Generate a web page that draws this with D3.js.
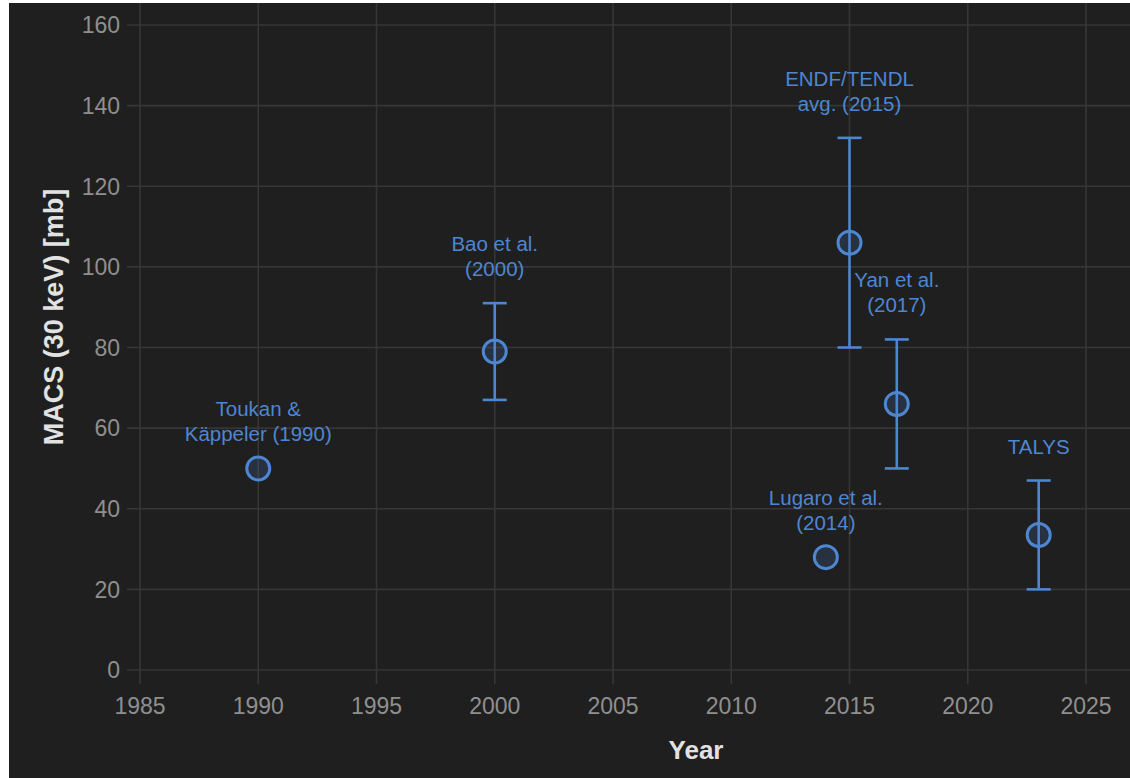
<!DOCTYPE html>
<html>
<head>
<meta charset="utf-8">
<script src="https://cdn.jsdelivr.net/npm/d3@7"></script>
<style>
  html, body { margin: 0; padding: 0; background: #ffffff; }
  svg { display: block; }
  text { font-family: "Liberation Sans", Arial, Helvetica, sans-serif; }
</style>
</head>
<body>
<svg id="chart" width="1130" height="778"></svg>
<script>
// Measurements of the 30 keV Maxwellian-averaged cross section
const sources = ["Toukan & Käppeler (1990)", "Bao et al. (2000)", "Lugaro et al. (2014)",
                 "ENDF/TENDL avg. (2015)", "Yan et al. (2017)", "TALYS"];
const labelLines = [["Toukan &", "Käppeler (1990)"], ["Bao et al.", "(2000)"],
                    ["Lugaro et al.", "(2014)"], ["ENDF/TENDL", "avg. (2015)"],
                    ["Yan et al.", "(2017)"], ["TALYS"]];
const years = [1990, 2000, 2014, 2015, 2017, 2023];
const macs = [50, 79, 28, 106, 66, 33.5];
const errLow = [null, 67, null, 80, 50, 20];
const errHigh = [null, 91, null, 132, 82, 47];

const xTicks = [1985, 1990, 1995, 2000, 2005, 2010, 2015, 2020, 2025];
const yTicks = [0, 20, 40, 60, 80, 100, 120, 140, 160];

const W = 1130, H = 778;
const panel = { left: 9, top: 3, right: W, bottom: H };
const plot = { left: 140, right: W, top: panel.top, bottom: 670 };

const x = d3.scaleLinear().domain([1985, 2025]).range([140, 1086]);
const y = d3.scaleLinear().domain([0, 160]).range([670, 25]);

const blue = "#4d86d1";
const gridColor = "#363636";
const tickText = "#8f8f8f";
const titleText = "#e2e2e2";

const svg = d3.select("#chart");

svg.append("rect")
  .attr("x", panel.left).attr("y", panel.top)
  .attr("width", panel.right - panel.left).attr("height", panel.bottom - panel.top)
  .attr("fill", "#1f1f1f");

// Gridlines and ticks
const grid = svg.append("g");
grid.selectAll("line.h").data(yTicks).join("line")
  .attr("class", "h")
  .attr("x1", 127).attr("x2", plot.right)
  .attr("y1", d => y(d)).attr("y2", d => y(d))
  .attr("stroke", gridColor).attr("stroke-width", 1.6);
grid.selectAll("line.v").data(xTicks).join("line")
  .attr("class", "v")
  .attr("x1", d => x(d)).attr("x2", d => x(d))
  .attr("y1", plot.top).attr("y2", 684)
  .attr("stroke", gridColor).attr("stroke-width", 1.6);

// Tick labels
svg.append("g").selectAll("text").data(yTicks).join("text")
  .attr("x", 120).attr("y", d => y(d)).attr("dy", "0.36em")
  .attr("text-anchor", "end")
  .attr("fill", tickText).attr("font-size", 23)
  .text(d => d);
svg.append("g").selectAll("text").data(xTicks).join("text")
  .attr("x", d => x(d)).attr("y", 714)
  .attr("text-anchor", "middle")
  .attr("fill", tickText).attr("font-size", 23)
  .text(d => d);

// Axis titles
svg.append("text")
  .attr("x", 696).attr("y", 759)
  .attr("text-anchor", "middle")
  .attr("fill", titleText).attr("font-size", 26).attr("font-weight", "bold")
  .text("Year");
svg.append("text")
  .attr("transform", "translate(63,317) rotate(-90)")
  .attr("text-anchor", "middle")
  .attr("fill", titleText).attr("font-size", 27).attr("font-weight", "bold")
  .text("MACS (30 keV) [mb]");

const rows = sources.map((s, i) => ({
  name: s, lines: labelLines[i], year: years[i], v: macs[i],
  lo: errLow[i], hi: errHigh[i]
}));

// Error bars
const eb = svg.append("g").attr("stroke", blue).attr("stroke-width", 2.6).attr("fill", "none");
rows.filter(d => d.lo !== null).forEach(d => {
  const cx = x(d.year);
  eb.append("line").attr("x1", cx).attr("x2", cx).attr("y1", y(d.lo)).attr("y2", y(d.hi));
  eb.append("line").attr("x1", cx - 12).attr("x2", cx + 12).attr("y1", y(d.lo)).attr("y2", y(d.lo));
  eb.append("line").attr("x1", cx - 12).attr("x2", cx + 12).attr("y1", y(d.hi)).attr("y2", y(d.hi));
});

// Points
svg.append("g").selectAll("circle").data(rows).join("circle")
  .attr("cx", d => x(d.year)).attr("cy", d => y(d.v)).attr("r", 11.5)
  .attr("fill", blue).attr("fill-opacity", 0.18)
  .attr("stroke", blue).attr("stroke-width", 3);

// Source labels above each measurement
const lineGap = 25;
const labels = svg.append("g").attr("fill", blue).attr("font-size", 20.5).attr("text-anchor", "middle");
rows.forEach(d => {
  const topVal = d.hi !== null ? d.hi : d.v;
  const lastBase = y(topVal) - 27;
  const n = d.lines.length;
  d.lines.forEach((t, j) => {
    labels.append("text")
      .attr("x", x(d.year))
      .attr("y", lastBase - (n - 1 - j) * lineGap)
      .text(t);
  });
});
</script>
</body>
</html>
